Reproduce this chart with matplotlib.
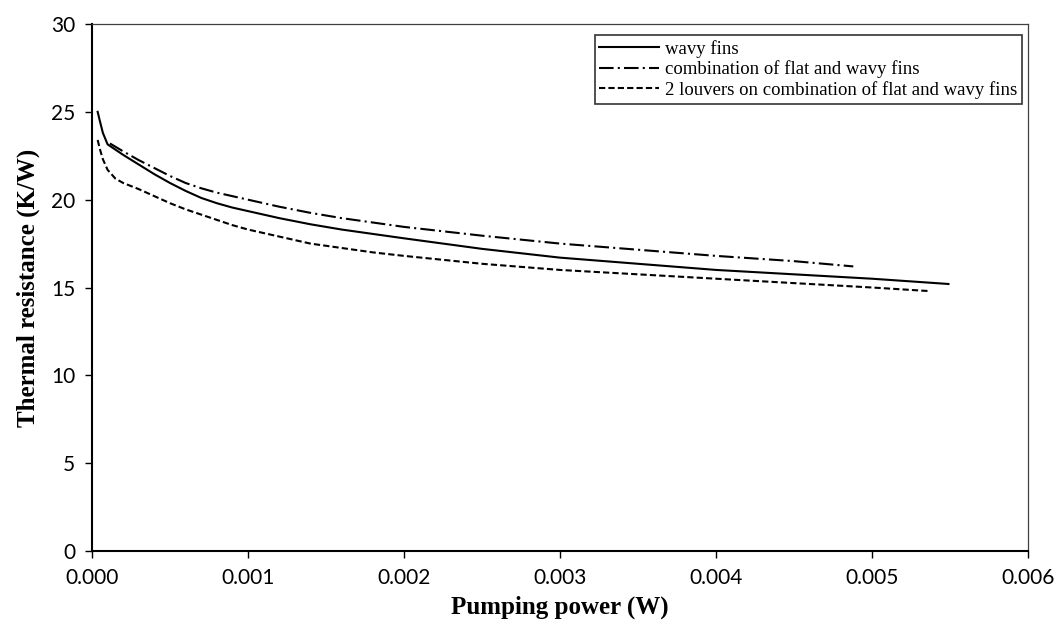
#!/usr/bin/env python3
"""Thermal resistance vs pumping power for three fin designs."""

import matplotlib
matplotlib.use("Agg")
import matplotlib.pyplot as plt

# pumping power (W) / thermal resistance (K/W)
wavy_x = [0.0000365, 0.00005, 0.00007, 0.0001, 0.00015, 0.0002, 0.0003,
          0.0004, 0.0005, 0.0006, 0.0007, 0.0008, 0.0009, 0.001, 0.0012,
          0.0014, 0.0016, 0.0018, 0.002, 0.0025, 0.003, 0.0035, 0.004,
          0.0045, 0.005, 0.00549]
wavy_y = [25.0, 24.5, 23.8, 23.15, 22.85, 22.55, 22.0, 21.45, 20.95, 20.5,
          20.1, 19.8, 19.55, 19.35, 18.95, 18.6, 18.3, 18.05, 17.8, 17.2,
          16.7, 16.35, 16.0, 15.75, 15.5, 15.2]

combo_x = [0.000115, 0.0002, 0.0003, 0.0004, 0.0005, 0.0006, 0.0007, 0.0008,
           0.0009, 0.001, 0.0012, 0.0014, 0.0016, 0.0018, 0.002, 0.0025,
           0.003, 0.0035, 0.004, 0.0045, 0.00488]
combo_y = [23.2, 22.75, 22.25, 21.8, 21.35, 20.95, 20.65, 20.4, 20.2, 20.0,
           19.6, 19.25, 18.95, 18.7, 18.45, 17.95, 17.5, 17.15, 16.8, 16.5,
           16.2]

louver_x = [0.0000365, 0.00005, 0.00007, 0.0001, 0.00015, 0.0002, 0.0003,
            0.0004, 0.0005, 0.0006, 0.0007, 0.0008, 0.0009, 0.001, 0.0012,
            0.0014, 0.0016, 0.0018, 0.002, 0.0025, 0.003, 0.0035, 0.004,
            0.0045, 0.005, 0.00536]
louver_y = [23.4, 22.9, 22.3, 21.7, 21.2, 20.95, 20.6, 20.2, 19.8, 19.45,
            19.15, 18.85, 18.55, 18.3, 17.9, 17.5, 17.25, 17.0, 16.8, 16.35,
            16.0, 15.75, 15.5, 15.25, 15.0, 14.8]

labels = ["wavy fins",
          "combination of flat and wavy fins",
          "2 louvers on combination of flat and wavy fins"]

x_ticks = [0.000, 0.001, 0.002, 0.003, 0.004, 0.005, 0.006]
y_ticks = [0, 5, 10, 15, 20, 25, 30]

SERIF = ["Liberation Serif", "DejaVu Serif"]
SANS = ["Lato", "DejaVu Sans"]


def main() -> None:
    fig = plt.figure(figsize=(10.62, 6.3), dpi=100)
    ax = fig.add_axes([0.0866, 0.1254, 0.8814, 0.8365])

    ax.plot(wavy_x, wavy_y, color="black", lw=1.5, label=labels[0])
    ax.plot(combo_x, combo_y, color="black", lw=1.5,
            dashes=(7, 2, 1, 2), label=labels[1])
    ax.plot(louver_x, louver_y, color="black", lw=1.5,
            dashes=(3, 1.5), label=labels[2])

    ax.set_xlim(0, 0.006)
    ax.set_ylim(0, 30)
    ax.set_xticks(x_ticks)
    ax.set_xticklabels([f"{v:.3f}" for v in x_ticks])
    ax.set_yticks(y_ticks)
    ax.set_yticklabels([str(v) for v in y_ticks])

    for side in ("left", "bottom"):
        ax.spines[side].set_linewidth(1.5)
        ax.spines[side].set_color("black")
    for side in ("top", "right"):
        ax.spines[side].set_linewidth(0.9)
        ax.spines[side].set_color("#404040")

    ax.tick_params(direction="out", length=5, width=1.0, color="black",
                   labelsize=15, pad=7)
    for lab in ax.get_xticklabels() + ax.get_yticklabels():
        lab.set_family(SANS)

    ax.set_xlabel("Pumping power (W)", family=SERIF, fontweight="bold",
                  fontsize=18, labelpad=6)
    ax.set_ylabel("Thermal resistance (K/W)", family=SERIF, fontweight="bold",
                  fontsize=18, labelpad=8)

    leg = ax.legend(loc="upper right", bbox_to_anchor=(0.9935, 0.979),
                    prop={"family": SERIF, "size": 13.5}, frameon=True,
                    fancybox=False, edgecolor="black", handlelength=3.2,
                    handletextpad=0.3, borderpad=0.25, labelspacing=0.15,
                    borderaxespad=0)
    leg.get_frame().set_linewidth(1.2)

    fig.savefig("out.png", dpi=100, facecolor="white")
    plt.close(fig)


if __name__ == "__main__":
    main()
